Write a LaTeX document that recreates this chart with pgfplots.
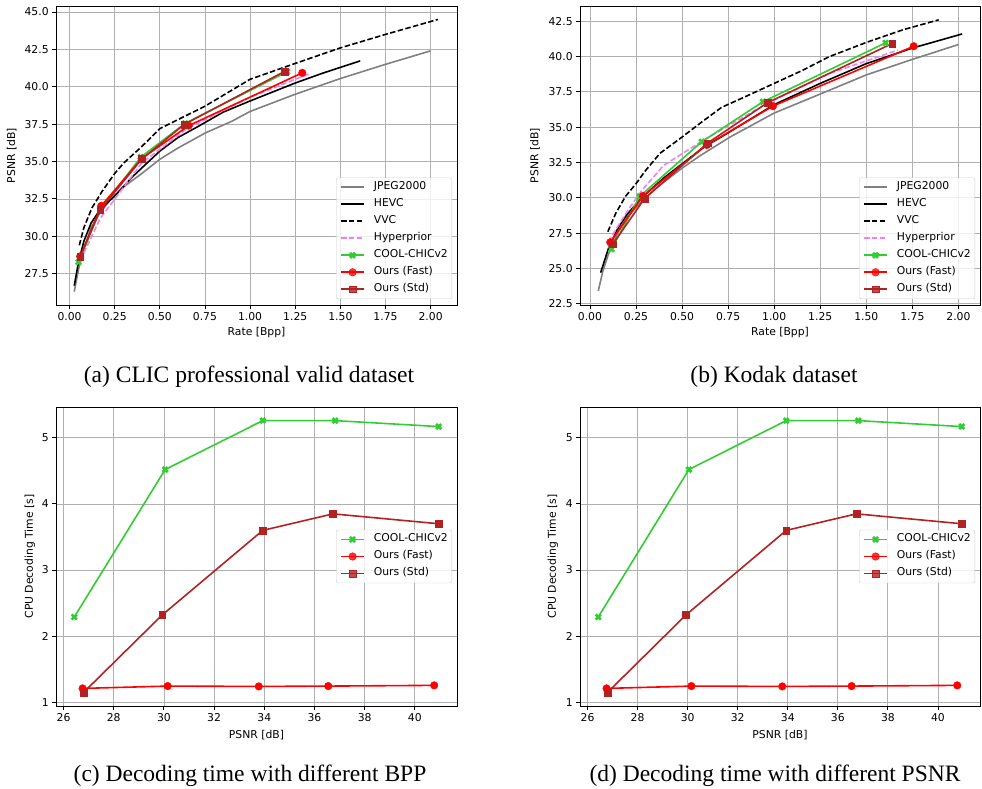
\documentclass[border=0pt]{standalone}
\usepackage{fontspec}
\setmainfont{DejaVu Sans}
\newfontfamily\capfont{Liberation Serif}
\usepackage{pgfplots}
\pgfplotsset{compat=1.18}

\definecolor{jpg}{RGB}{128,128,128}
\definecolor{hyper}{RGB}{238,130,238}
\definecolor{cool}{RGB}{50,205,50}
\definecolor{fast}{RGB}{255,0,0}
\definecolor{std}{RGB}{178,34,34}
\definecolor{gridc}{RGB}{176,176,176}
\definecolor{legc}{RGB}{204,204,204}

\newcommand{\pf}{\fontsize{10.8}{13}\selectfont}

\pgfplotsset{
  base/.style={
    scale only axis, anchor=south west,
    axis line style={black, line width=0.9pt},
    grid=major, major grid style={color=gridc, line width=0.8pt},
    tick align=outside, major tick length=3.8pt,
    tick style={black, line width=0.9pt},
    xtick pos=left, ytick pos=left,
    tick label style={font=\pf},
    label style={font=\pf},
    /pgf/number format/assume math mode=true,
    legend cell align=left,
    legend style={font=\pf, draw=legc, fill=white, fill opacity=0.8, text opacity=1,
      rounded corners=2pt, inner xsep=4pt, inner ysep=1pt,
      nodes={inner xsep=0pt, inner ysep=3pt, text height=8pt, text depth=3pt},
      /tikz/every odd column/.append style={column sep=9pt}},
    legend image code/.code={\draw[mark repeat=2,mark phase=2,##1] plot coordinates {(0pt,0pt) (11.5pt,0pt) (23pt,0pt)};},
  },
  jpgs/.style={color=jpg, line width=1.6pt, no markers},
  hevcs/.style={color=black, line width=1.6pt, no markers},
  vvcs/.style={color=black, line width=1.6pt, dash pattern=on 5.5pt off 2.4pt, no markers},
  hypers/.style={color=hyper, line width=1.6pt, dash pattern=on 5.5pt off 2.4pt, no markers},
  cools/.style={color=cool, line width=1.6pt, mark=x, mark size=3.6pt, mark options={solid, line width=2.7pt}},
  fasts/.style={color=fast, line width=1.6pt, mark=*, mark size=3.8pt, mark options={solid, fill=fast, draw=fast, line width=0.4pt}},
  stds/.style={color=std, line width=1.6pt, mark=square*, mark size=3.4pt, mark options={solid, fill=std, draw=std, line width=0.4pt}},
}

\begin{document}
\begin{tikzpicture}
\path[use as bounding box] (0,0) rectangle (982pt,789pt);

% (a) CLIC
\begin{axis}[base, at={(56pt,484pt)}, width=401pt, height=299pt,
  xmin=-0.075, xmax=2.146, ymin=25.41, ymax=45.4,
  xtick={0,0.25,0.5,0.75,1,1.25,1.5,1.75,2},
  ytick={27.5,30,32.5,35,37.5,40,42.5,45},
  xticklabel style={/pgf/number format/.cd, fixed, fixed zerofill, precision=2},
  yticklabel style={/pgf/number format/.cd, fixed, fixed zerofill, precision=1},
  xlabel={Rate [Bpp]}, ylabel={PSNR [dB]},
  xlabel style={at={(axis description cs:0.5,-0.0936)}, anchor=center},
  ylabel style={at={(axis description cs:-0.1105,0.5)}, anchor=center},
  legend style={at={(axis description cs:1,0)}, anchor=south east, xshift=-5pt, yshift=6pt},
]
\addplot[jpgs] coordinates {(0.026,26.3) (0.05,27.8) (0.08,29.2) (0.12,30.6) (0.17,31.6) (0.23,32.5) (0.3,33.3) (0.4,34.2) (0.5,35.15) (0.6,35.9) (0.75,36.9) (0.9,37.7) (1.0,38.35) (1.25,39.5) (1.5,40.55) (1.75,41.5) (2.0,42.4)};
\addlegendentry{JPEG2000}
\addplot[hevcs] coordinates {(0.026,26.7) (0.05,28.3) (0.08,29.7) (0.12,30.9) (0.17,31.8) (0.25,32.7) (0.35,34.0) (0.5,35.7) (0.6,36.6) (0.72,37.4) (0.85,38.3) (1.0,39.05) (1.25,40.25) (1.4,40.9) (1.61,41.73)};
\addlegendentry{HEVC}
\addplot[vvcs] coordinates {(0.054,29.4) (0.08,30.6) (0.124,31.9) (0.18,33.0) (0.25,34.2) (0.3,34.9) (0.4,36.0) (0.5,37.2) (0.6,37.8) (0.75,38.7) (1.0,40.5) (1.25,41.56) (1.5,42.6) (1.75,43.5) (2.04,44.5)};
\addlegendentry{VVC}
\addplot[hypers] coordinates {(0.06,28.4) (0.17,31.2) (0.4,34.9) (0.65,37.2) (1.0,39.3) (1.334,40.9)};
\addlegendentry{Hyperprior}
\addplot[cools] coordinates {(0.05,28.28) (0.17,31.75) (0.395,35.3) (0.64,37.55) (1.205,41.0)};
\addlegendentry{COOL-CHICv2}
\addplot[fasts] coordinates {(0.059,28.66) (0.176,32.04) (0.40,35.2) (0.66,37.4) (1.289,40.93)};
\addlegendentry{Ours (Fast)}
\addplot[stds] coordinates {(0.059,28.65) (0.17,31.77) (0.40,35.17) (0.636,37.49) (1.19,41.02)};
\addlegendentry{Ours (Std)}
\end{axis}

% (b) Kodak
\begin{axis}[base, at={(580pt,484pt)}, width=400pt, height=299pt,
  xmin=-0.054, xmax=2.117, ymin=22.41, ymax=43.58,
  xtick={0,0.25,0.5,0.75,1,1.25,1.5,1.75,2},
  ytick={22.5,25,27.5,30,32.5,35,37.5,40,42.5},
  xticklabel style={/pgf/number format/.cd, fixed, fixed zerofill, precision=2},
  yticklabel style={/pgf/number format/.cd, fixed, fixed zerofill, precision=1},
  xlabel={Rate [Bpp]}, ylabel={PSNR [dB]},
  xlabel style={at={(axis description cs:0.5,-0.0936)}, anchor=center},
  ylabel style={at={(axis description cs:-0.1125,0.5)}, anchor=center},
  legend style={at={(axis description cs:1,0)}, anchor=south east, xshift=-5pt, yshift=6pt},
]
\addplot[jpgs] coordinates {(0.045,23.4) (0.07,24.8) (0.1,26.0) (0.15,27.5) (0.2,28.6) (0.27,29.6) (0.35,30.6) (0.5,32.1) (0.6,33.0) (0.76,34.3) (1.0,36.0) (1.26,37.4) (1.5,38.7) (1.75,39.8) (2.0,40.85)};
\addlegendentry{JPEG2000}
\addplot[hevcs] coordinates {(0.058,24.7) (0.1,26.4) (0.15,27.8) (0.2,28.8) (0.28,30.0) (0.4,31.4) (0.5,32.4) (0.62,33.6) (0.75,34.6) (1.0,36.6) (1.25,38.1) (1.5,39.5) (1.75,40.6) (2.02,41.6)};
\addlegendentry{HEVC}
\addplot[vvcs] coordinates {(0.097,27.6) (0.14,28.9) (0.193,30.1) (0.25,31.0) (0.3,31.9) (0.38,33.15) (0.5,34.3) (0.6,35.3) (0.714,36.4) (0.85,37.2) (1.0,38.1) (1.15,39.0) (1.3,40.0) (1.5,41.0) (1.7,41.9) (1.893,42.6)};
\addlegendentry{VVC}
\addplot[hypers] coordinates {(0.1,26.9) (0.2,29.0) (0.28,30.5) (0.4,32.3) (0.62,34.1) (0.95,36.6) (1.3,38.8) (1.67,40.45)};
\addlegendentry{Hyperprior}
\addplot[cools] coordinates {(0.117,26.36) (0.27,30.1) (0.607,33.97) (0.939,36.8) (1.605,40.97)};
\addlegendentry{COOL-CHICv2}
\addplot[fasts] coordinates {(0.11,26.85) (0.288,30.13) (0.634,33.74) (0.993,36.49) (1.757,40.73)};
\addlegendentry{Ours (Fast)}
\addplot[stds] coordinates {(0.124,26.72) (0.295,29.92) (0.637,33.86) (0.963,36.73) (1.64,40.92)};
\addlegendentry{Ours (Std)}
\end{axis}

% (c) decoding time vs BPP
\begin{axis}[base, at={(56pt,83pt)}, width=401pt, height=299pt,
  xmin=25.70, xmax=41.68, ymin=0.944, ymax=5.466,
  xtick={26,28,30,32,34,36,38,40}, ytick={1,2,3,4,5},
  xlabel={PSNR [dB]}, ylabel={CPU Decoding Time [s]},
  xlabel style={at={(axis description cs:0.5,-0.0960)}, anchor=center},
  ylabel style={at={(axis description cs:-0.0648,0.5)}, anchor=center},
  legend style={at={(axis description cs:1,0.5)}, anchor=east, xshift=-5pt},
]
\addplot[cools] coordinates {(26.43,2.29) (30.05,4.52) (33.94,5.26) (36.82,5.26) (40.95,5.17)};
\addlegendentry{COOL-CHICv2}
\addplot[fasts] coordinates {(26.76,1.21) (30.15,1.245) (33.78,1.24) (36.55,1.245) (40.77,1.256)};
\addlegendentry{Ours (Fast)}
\addplot[stds] coordinates {(26.80,1.15) (29.93,2.32) (33.94,3.60) (36.74,3.85) (40.95,3.70)};
\addlegendentry{Ours (Std)}
\end{axis}

% (d) decoding time vs PSNR
\begin{axis}[base, at={(580pt,83pt)}, width=400pt, height=299pt,
  xmin=25.70, xmax=41.68, ymin=0.944, ymax=5.466,
  xtick={26,28,30,32,34,36,38,40}, ytick={1,2,3,4,5},
  xlabel={PSNR [dB]}, ylabel={CPU Decoding Time [s]},
  xlabel style={at={(axis description cs:0.5,-0.0960)}, anchor=center},
  ylabel style={at={(axis description cs:-0.0675,0.5)}, anchor=center},
  legend style={at={(axis description cs:1,0.5)}, anchor=east, xshift=-5pt},
]
\addplot[cools] coordinates {(26.43,2.29) (30.05,4.52) (33.94,5.26) (36.82,5.26) (40.95,5.17)};
\addlegendentry{COOL-CHICv2}
\addplot[fasts] coordinates {(26.76,1.21) (30.15,1.245) (33.78,1.24) (36.55,1.245) (40.77,1.256)};
\addlegendentry{Ours (Fast)}
\addplot[stds] coordinates {(26.80,1.15) (29.93,2.32) (33.94,3.60) (36.74,3.85) (40.95,3.70)};
\addlegendentry{Ours (Std)}
\end{axis}

\node[anchor=base, font=\capfont\fontsize{23.5}{28}\selectfont] at (249pt,406pt) {(a) CLIC professional valid dataset};
\node[anchor=base, font=\capfont\fontsize{23.5}{28}\selectfont] at (774pt,406pt) {(b) Kodak dataset};
\node[anchor=base, font=\capfont\fontsize{23.5}{28}\selectfont] at (250pt,7pt) {(c) Decoding time with different BPP};
\node[anchor=base, font=\capfont\fontsize{23.5}{28}\selectfont] at (775pt,7pt) {(d) Decoding time with different PSNR};
\end{tikzpicture}
\end{document}
